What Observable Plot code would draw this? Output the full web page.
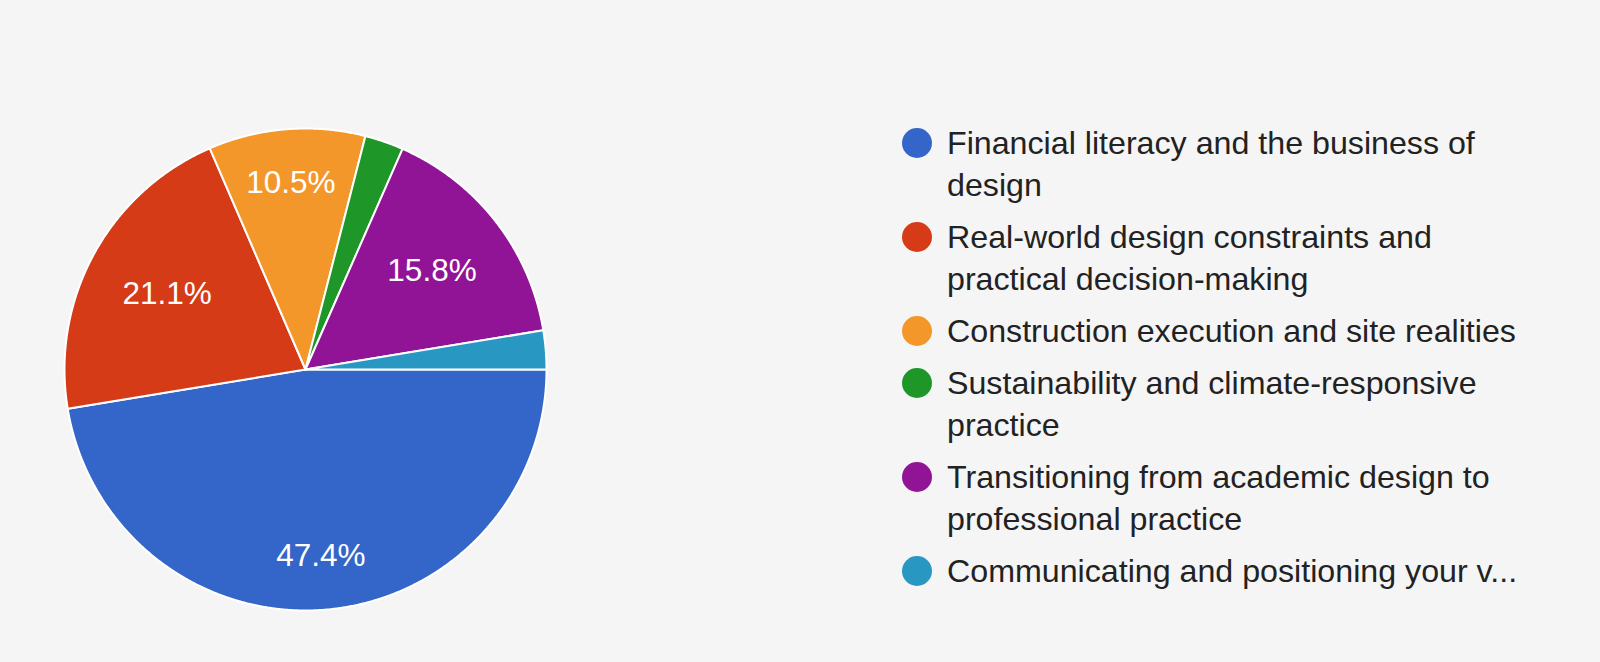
<!DOCTYPE html>
<html>
<head>
<meta charset="utf-8">
<script src="https://cdn.jsdelivr.net/npm/d3@7"></script>
<script src="https://cdn.jsdelivr.net/npm/@observablehq/plot@0.6"></script>
<style>
  html, body { margin: 0; padding: 0; background: #f5f5f5; }
  #wrap { position: relative; width: 1600px; height: 662px; background: #f5f5f5; overflow: hidden; font-family: "Liberation Sans", Arial, sans-serif; }
  #pie { position: absolute; left: 0; top: 0; }
  #legend { position: absolute; left: 902px; top: 122px; }
  .item { display: flex; align-items: flex-start; margin-bottom: 10px; }
  .sw { width: 30px; height: 30px; border-radius: 50%; margin-top: 6px; flex: none; }
  .lab { margin-left: 15px; max-width: 590px; font-size: 32.2px; line-height: 42px; color: #222; }
  .lab.trunc { white-space: nowrap; }
</style>
</head>
<body>
<div id="wrap"><div id="pie"></div><div id="legend"></div></div>
<script>
const categories = [
  "Financial literacy and the business of design",
  "Real-world design constraints and practical decision-making",
  "Construction execution and site realities",
  "Sustainability and climate-responsive practice",
  "Transitioning from academic design to professional practice",
  "Communicating and positioning your v..."
];
const percents = [47.4, 21.1, 10.5, 2.6, 15.8, 2.6];
const colors = ["#3465c8", "#d63b17", "#f4972a", "#1e9728", "#911496", "#2898c2"];

const R = 241; // pie radius in px
const pie = d3.pie().sort(null).value(d => d.value)
  .startAngle(Math.PI / 2).endAngle(Math.PI / 2 + 2 * Math.PI);
const rows = categories.map((c, i) => ({name: c, value: percents[i], color: colors[i]}));
const arcs = pie(rows);

// polygon points for each slice (center -> arc -> center), in unit coordinates
const pts = [];
arcs.forEach(a => {
  const n = Math.max(2, Math.ceil((a.endAngle - a.startAngle) / 0.005));
  pts.push({name: a.data.name, color: a.data.color, x: 0, y: 0});
  for (let k = 0; k <= n; k++) {
    const t = a.startAngle + (a.endAngle - a.startAngle) * k / n;
    pts.push({name: a.data.name, color: a.data.color, x: Math.sin(t), y: Math.cos(t)});
  }
  pts.push({name: a.data.name, color: a.data.color, x: 0, y: 0});
});

// labels: fit the text box inside the circle along the bisector
const ctx = document.createElement("canvas").getContext("2d");
ctx.font = '31.5px "Liberation Sans"';
const labels = arcs.filter(a => a.data.value >= 5).map(a => {
  const t = (a.startAngle + a.endAngle) / 2;
  const txt = a.data.value.toFixed(1) + "%";
  const w = ctx.measureText(txt).width, h = 23;
  const d = 0.84 * R - (Math.abs(Math.sin(t)) * w / 2 + Math.abs(Math.cos(t)) * h / 2);
  return {text: txt, x: Math.sin(t) * d / R, y: Math.cos(t) * d / R};
});

const chart = Plot.plot({
  width: 860,
  height: 662,
  margin: 0,
  style: {background: "transparent", overflow: "visible"},
  x: {domain: [-1, 1], range: [64, 546], axis: null},
  y: {domain: [-1, 1], range: [610, 128], axis: null},
  color: {type: "identity"},
  marks: [
    Plot.line(pts, {x: "x", y: "y", z: "name", fill: "color", stroke: "white", strokeWidth: 2, strokeLinejoin: "round", curve: "linear"}),
    Plot.text(labels, {x: "x", y: "y", text: "text", fill: "white", fontSize: 31.5, fontFamily: '"Liberation Sans", Arial, sans-serif', textAnchor: "middle", lineAnchor: "middle"})
  ]
});
document.getElementById("pie").appendChild(chart);

const legend = document.getElementById("legend");
categories.forEach((c, i) => {
  const it = document.createElement("div");
  it.className = "item";
  const sw = document.createElement("div");
  sw.className = "sw";
  sw.style.background = colors[i];
  const lb = document.createElement("div");
  lb.className = "lab" + (c.endsWith("...") ? " trunc" : "");
  lb.textContent = c;
  it.appendChild(sw); it.appendChild(lb);
  legend.appendChild(it);
});
</script>
</body>
</html>
